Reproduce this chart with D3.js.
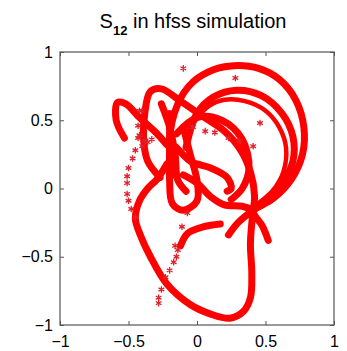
<!DOCTYPE html>
<html><head><meta charset="utf-8">
<script src="https://cdn.jsdelivr.net/npm/d3@7"></script>
<style>body{margin:0;background:#fff}svg{display:block}</style>
</head><body>
<script>
const xTicks = [-1, -0.5, 0, 0.5, 1];
const yTicks = [-1, -0.5, 0, 0.5, 1];
const xTickLabels = ["\u22121", "\u22120.5", "0", "0.5", "1"];
const yTickLabels = ["\u22121", "\u22120.5", "0", "0.5", "1"];

// dense trajectory segments (markers so dense they form thick strokes)
const outerLoop = [[-0.17,0.1],[-0.2,0.35],[-0.14,0.62],[-0.03,0.78],[0.12,0.87],[0.27,0.9],[0.45,0.88],[0.6,0.8],[0.72,0.65],[0.78,0.45],[0.77,0.25],[0.69,0.07],[0.56,-0.07],[0.41,-0.16],[0.3,-0.25],[0.23,-0.34]];
const secondLoop = [[-0.08,0.3],[0.0,0.55],[0.12,0.67],[0.29,0.72],[0.47,0.68],[0.62,0.55],[0.7,0.38],[0.7,0.2],[0.62,0.04],[0.5,-0.08],[0.41,-0.16],[0.48,-0.28],[0.52,-0.38]];
const thirdArc = [[-0.05,0.45],[0.08,0.6],[0.2,0.65],[0.35,0.64],[0.5,0.57],[0.6,0.45],[0.65,0.3],[0.63,0.12],[0.55,-0.02],[0.42,-0.14]];
const loopA = [[-0.27,0.08],[-0.36,0.2],[-0.39,0.36],[-0.38,0.56],[-0.34,0.71],[-0.26,0.73],[-0.12,0.64],[0.04,0.53],[0.2,0.42],[0.32,0.28],[0.39,0.12],[0.42,-0.05],[0.41,-0.16]];
const heartOuter = [[0.41,-0.16],[0.39,-0.4],[0.4,-0.62],[0.39,-0.8],[0.34,-0.9],[0.24,-0.95],[0.1,-0.92],[-0.05,-0.85],[-0.22,-0.7],[-0.34,-0.5],[-0.41,-0.35],[-0.45,-0.22],[-0.42,-0.09],[-0.36,0.0],[-0.29,0.07],[-0.22,0.18]];
const heartInner = [[0.17,-0.26],[0.05,-0.28],[-0.07,-0.33],[-0.12,-0.42]];
const hook = [[-0.53,0.37],[-0.59,0.5],[-0.58,0.63],[-0.52,0.62],[-0.42,0.52],[-0.3,0.41],[-0.22,0.32]];
const trunkLoop = [[-0.2,0.55],[-0.2,0.3],[-0.2,0.06],[-0.18,-0.11],[-0.1,-0.16],[0.0,-0.09],[0.0,0.06],[-0.05,0.25],[-0.1,0.45]];
const trunk2 = [[-0.26,0.62],[-0.2,0.45],[-0.16,0.25],[-0.14,0.06],[-0.08,-0.02]];
const innerCircle = [[-0.15,0.4],[0.0,0.52],[0.18,0.5],[0.33,0.36],[0.38,0.15],[0.33,0.0],[0.25,-0.08]];
const midLoop = [[-0.15,0.3],[-0.05,0.2],[0.0,0.18],[0.1,0.15],[0.22,0.08],[0.25,0.0],[0.22,-0.02]];
const lowLink = [[-0.1,0.1],[0.0,0.04],[0.1,-0.06],[0.2,-0.12],[0.33,-0.13],[0.41,-0.16]];
const denseSegments = [outerLoop, secondLoop, loopA, heartOuter, heartInner, hook, trunkLoop, trunk2, innerCircle, midLoop, lowLink];
const fuzzySegments = [thirdArc];

// sparse markers
const sparseRe = [-0.42,-0.43,-0.43,-0.45,-0.47,-0.5,-0.51,-0.51,-0.51,-0.5,-0.48,-0.45,
  -0.42,-0.38,-0.33,-0.36,-0.4,-0.4,
  -0.1,0.28,0.46,
  -0.07,-0.11,-0.16,-0.14,-0.15,-0.17,-0.2,-0.23,-0.26,-0.28,-0.28,
  -0.03,0.06,0.13,0.23,0.31,0.41];
const sparseIm = [0.57,0.46,0.37,0.28,0.22,0.15,0.09,0.04,-0.04,-0.09,-0.15,-0.21,
  0.39,0.35,0.36,0.34,0.31,0.57,
  0.88,0.81,0.48,
  -0.18,-0.28,-0.42,-0.45,-0.5,-0.54,-0.6,-0.65,-0.74,-0.8,-0.84,
  0.45,0.42,0.41,0.37,0.35,0.31];

const W = 347, H = 351;
const svg = d3.select("body").append("svg").attr("width", W).attr("height", H);
const x = d3.scaleLinear().domain([-1, 1]).range([60, 334]);
const y = d3.scaleLinear().domain([-1, 1]).range([325, 52]);
const red = "#ff0000";

svg.append("clipPath").attr("id","c").append("rect")
  .attr("x", 60).attr("y", 52).attr("width", 274).attr("height", 273);
const g = svg.append("g").attr("clip-path","url(#c)");

const line = d3.line().x(d => x(d[0])).y(d => y(d[1])).curve(d3.curveCatmullRom.alpha(0.5));
g.selectAll("path.fz").data(fuzzySegments).join("path")
  .attr("class","fz").attr("d", line)
  .attr("fill","none").attr("stroke", red).attr("stroke-width", 4.5)
  .attr("stroke-linecap","round").attr("stroke-linejoin","round");
g.selectAll("path.seg").data(denseSegments).join("path")
  .attr("class","seg").attr("d", line)
  .attr("fill","none").attr("stroke", red).attr("stroke-width", 7)
  .attr("stroke-linecap","round").attr("stroke-linejoin","round");

const sym = d3.symbol().type(d3.symbolAsterisk || d3.symbolCross).size(30);
g.selectAll("path.pt").data(d3.range(sparseRe.length)).join("path")
  .attr("class","pt")
  .attr("transform", i => `translate(${x(sparseRe[i])},${y(sparseIm[i])})`)
  .attr("d", sym)
  .attr("fill","none").attr("stroke", "#e0202a").attr("stroke-width", 1.3);

// axes box
const axisColor = "#555";
svg.append("rect").attr("x",60).attr("y",52).attr("width",274).attr("height",273)
  .attr("fill","none").attr("stroke",axisColor).attr("stroke-width",1.2);
const xa = svg.append("g").attr("transform","translate(0,325)")
  .call(d3.axisBottom(x).tickValues(xTicks).tickSize(-4).tickFormat((d,i)=>xTickLabels[i]));
const xt = svg.append("g").attr("transform","translate(0,52)")
  .call(d3.axisTop(x).tickValues(xTicks).tickSize(-4).tickFormat(""));
const ya = svg.append("g").attr("transform","translate(60,0)")
  .call(d3.axisLeft(y).tickValues(yTicks).tickSize(-4).tickFormat((d,i)=>yTickLabels[i]));
const yr = svg.append("g").attr("transform","translate(334,0)")
  .call(d3.axisRight(y).tickValues(yTicks).tickSize(-4).tickFormat(""));
[xa,xt,ya,yr].forEach(a => {
  a.select(".domain").remove();
  a.selectAll(".tick line").attr("stroke",axisColor);
  a.selectAll("text").attr("fill","#000").style("font-family","'Liberation Sans', Arial, sans-serif").style("font-size","16px");
});
xa.selectAll("text").attr("dy","0.71em").attr("y", 11);
ya.selectAll("text").attr("x", -7);

// title
const t = svg.append("text").attr("x", 193).attr("y", 28).attr("text-anchor","middle")
  .style("font-family","'Liberation Sans', Arial, sans-serif").style("font-size","20px").attr("fill","#000");
t.append("tspan").text("S");
t.append("tspan").text("12").attr("dy", 7).style("font-size","13px").style("font-weight","bold");
t.append("tspan").text(" in hfss simulation").attr("dy", -7);
</script>
</body></html>
